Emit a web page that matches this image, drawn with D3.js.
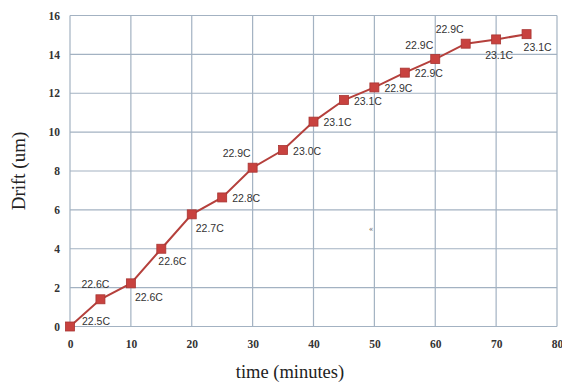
<!DOCTYPE html>
<html><head><meta charset="utf-8">
<script src="https://cdn.jsdelivr.net/npm/d3@7"></script>
<style>html,body{margin:0;padding:0;background:#fff}</style>
</head><body>
<svg id="c" width="562" height="383"></svg>
<script>
const times = [0,5,10,15,20,25,30,35,40,45,50,55,60,65,70,75];
const drift = [0,1.40,2.22,4.0,5.77,6.64,8.17,9.08,10.54,11.65,12.3,13.06,13.76,14.55,14.77,15.04];
const temps = ["22.5C","22.6C","22.6C","22.6C","22.7C","22.8C","22.9C","23.0C","23.1C","23.1C","22.9C","22.9C","22.9C","22.9C","23.1C","23.1C"];
const labelPlace = ["r-up","up","down-right","down","down-right","right","up-left","right","right","right","right","right","up-left","up-left","down-left","down"];
const xTicks = [0,10,20,30,40,50,60,70,80];
const yTicks = [0,2,4,6,8,10,12,14,16];

const svg = d3.select("#c");
const x = d3.scaleLinear().domain([0,80]).range([70,557]);
const y = d3.scaleLinear().domain([0,16]).range([326.5,15.5]);

const grid = svg.append("g");
grid.selectAll("line.h").data(yTicks).join("line")
  .attr("x1",x(0)).attr("x2",x(80)).attr("y1",d=>y(d)).attr("y2",d=>y(d))
  .attr("stroke","#a3b2c2").attr("stroke-width",1.2);
grid.selectAll("line.v").data(xTicks).join("line")
  .attr("y1",y(0)).attr("y2",y(16)).attr("x1",d=>x(d)).attr("x2",d=>x(d))
  .attr("stroke","#a3b2c2").attr("stroke-width",1.2);

const yAxis = d3.axisLeft(y).tickValues(yTicks).tickSize(0).tickPadding(10);
svg.append("g").attr("transform",`translate(${x(0)},0)`).call(yAxis)
  .call(g=>g.select(".domain").remove())
  .selectAll("text").attr("font-family","Liberation Serif, serif").attr("font-weight","bold").attr("font-size",11.5).attr("fill","#333");
const xAxis = d3.axisBottom(x).tickValues(xTicks).tickSize(0).tickPadding(13);
svg.append("g").attr("transform",`translate(0,${y(0)})`).call(xAxis)
  .call(g=>g.select(".domain").remove())
  .selectAll("text").attr("font-family","Liberation Serif, serif").attr("font-weight","bold").attr("font-size",11.5).attr("fill","#333");

const pts = times.map((t,i)=>({t, d:drift[i], lab:temps[i], p:labelPlace[i]}));
svg.append("path").datum(pts)
  .attr("d", d3.line().x(d=>x(d.t)).y(d=>y(d.d)))
  .attr("fill","none").attr("stroke","#b5403c").attr("stroke-width",2);
svg.selectAll("rect.m").data(pts).join("rect")
  .attr("x",d=>x(d.t)-4.5).attr("y",d=>y(d.d)-4.5).attr("width",9).attr("height",9)
  .attr("fill","#c8423f").attr("stroke","#a83532").attr("stroke-width",0.8);

const off = {"r-up":[12,-5],"up":[-19,-15],"up-left":[-30,-14],"down-right":[4,14],"down":[-3,13],"right":[10,1],"down-left":[-11,16]};
svg.selectAll("text.l").data(pts).join("text")
  .attr("x",d=>x(d.t)+off[d.p][0]).attr("y",d=>y(d.d)+off[d.p][1])
  .attr("dy","0.35em")
  .attr("font-family","Liberation Sans, Arial, sans-serif").attr("font-size",10.5)
  .attr("fill","#333").text(d=>d.lab);

svg.append("text").attr("x",290).attr("y",378)
  .attr("text-anchor","middle").attr("font-family","Liberation Serif, serif").attr("font-size",18.5).attr("fill","#222")
  .text("time (minutes)");
svg.append("text").attr("transform","translate(25,171) rotate(-90)")
  .attr("text-anchor","middle").attr("font-family","Liberation Serif, serif").attr("font-size",19).attr("fill","#222")
  .text("Drift (um)");
svg.append("text").attr("x",371).attr("y",231).attr("text-anchor","middle")
  .attr("font-family","Liberation Serif, serif").attr("font-size",8).attr("fill","#555").text("«");
</script>
</body></html>
